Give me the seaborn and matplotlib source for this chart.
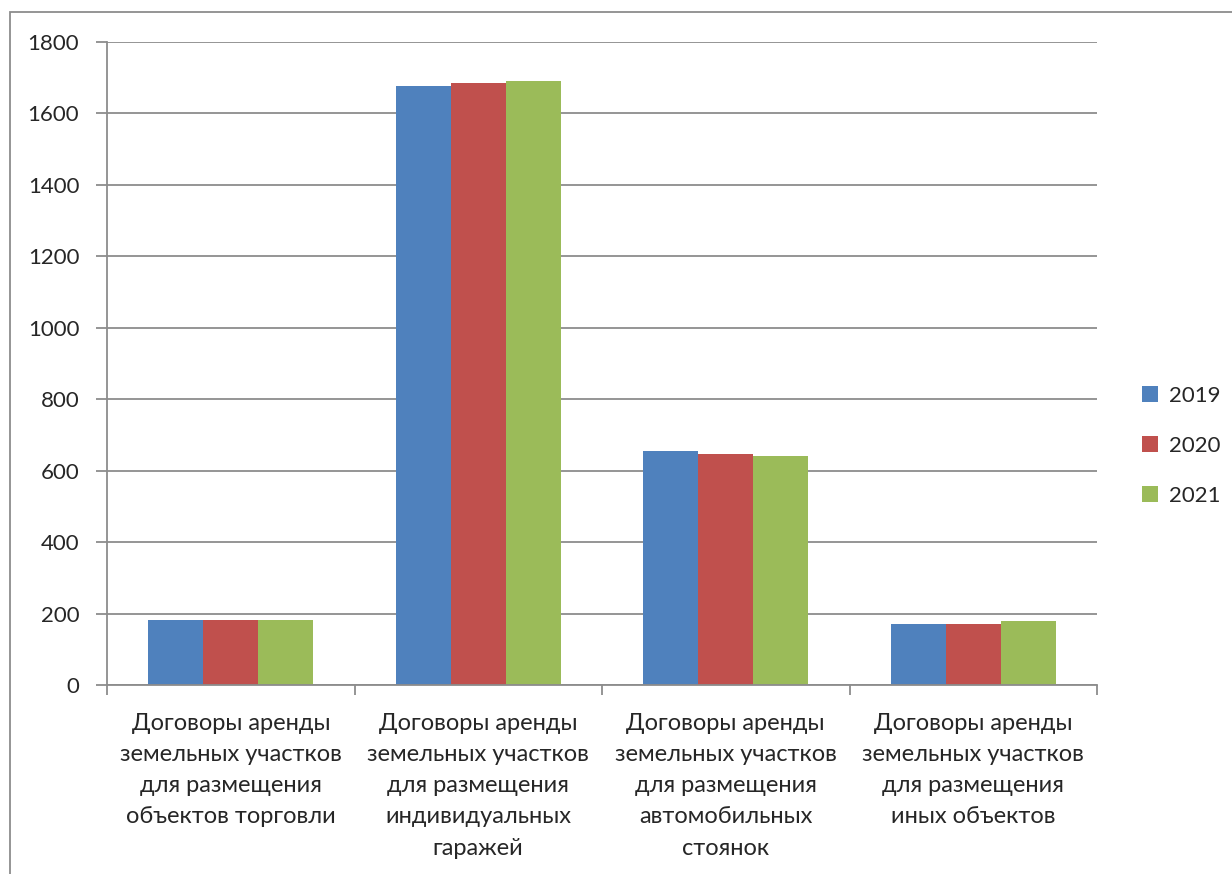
import pandas as pd
import seaborn as sns
import matplotlib.pyplot as plt
from matplotlib.patches import Rectangle

# data
categories = [
    "Договоры аренды\nземельных участков\nдля размещения\nобъектов торговли",
    "Договоры аренды\nземельных участков\nдля размещения\nиндивидуальных\nгаражей",
    "Договоры аренды\nземельных участков\nдля размещения\nавтомобильных\nстоянок",
    "Договоры аренды\nземельных участков\nдля размещения\nиных объектов",
]
years = ["2019", "2020", "2021"]
values_2019 = [182, 1678, 654, 172]
values_2020 = [182, 1685, 648, 172]
values_2021 = [182, 1691, 642, 178]
colors = ["#4F81BD", "#C0504D", "#9BBB59"]

df = pd.DataFrame({
    "category": categories * 3,
    "year": [y for y in years for _ in categories],
    "value": values_2019 + values_2020 + values_2021,
})

sns.set_style("white")
plt.rcParams["font.family"] = ["Lato", "DejaVu Sans"]

fig = plt.figure(figsize=(12.32, 8.74), dpi=100)
ax = fig.add_axes([107 / 1232, 1 - 685 / 874, 990 / 1232, 643 / 874])

# outer chart frame
fig.patches.append(Rectangle((10 / 1232, -0.1), 1.2, 1 - 12 / 874 + 0.1,
                             transform=fig.transFigure, fill=False,
                             edgecolor="#8C8C8C", linewidth=1.3))

sns.barplot(data=df, x="category", y="value", hue="year", palette=colors,
            width=0.667, saturation=1, ax=ax, legend=True, edgecolor="none")

grid_c = "#8C8C8C"
ax.set_ylim(0, 1800)
ax.set_xlim(-0.5, 3.5)
ax.set_yticks(range(0, 1801, 200))
ax.yaxis.grid(True, color=grid_c, linewidth=1.3)
ax.set_axisbelow(True)
for s in ["top", "right"]:
    ax.spines[s].set_visible(False)
for s in ["left", "bottom"]:
    ax.spines[s].set_color(grid_c)
    ax.spines[s].set_linewidth(1.3)

ax.tick_params(axis="y", direction="out", length=8, width=1.3, color=grid_c,
               labelsize=16, pad=12, left=True)
ax.tick_params(axis="x", which="major", length=0, labelsize=17, pad=20)
ax.set_xticks([-0.5, 0.5, 1.5, 2.5, 3.5], minor=True)
ax.tick_params(axis="x", which="minor", direction="out", length=7, width=1.3,
               color=grid_c, bottom=True)
for lbl in ax.get_xticklabels():
    lbl.set_linespacing(1.6)
ax.set_xlabel("")
ax.set_ylabel("")

handles, labels = ax.get_legend_handles_labels()
ax.legend(handles, labels, loc="center left", bbox_to_anchor=(1122 / 1232, 0.49),
          bbox_transform=fig.transFigure, frameon=False, fontsize=16,
          handlelength=0.7, handleheight=0.7, handletextpad=0.5, labelspacing=1.35)

fig.savefig("out.png", dpi=100)
